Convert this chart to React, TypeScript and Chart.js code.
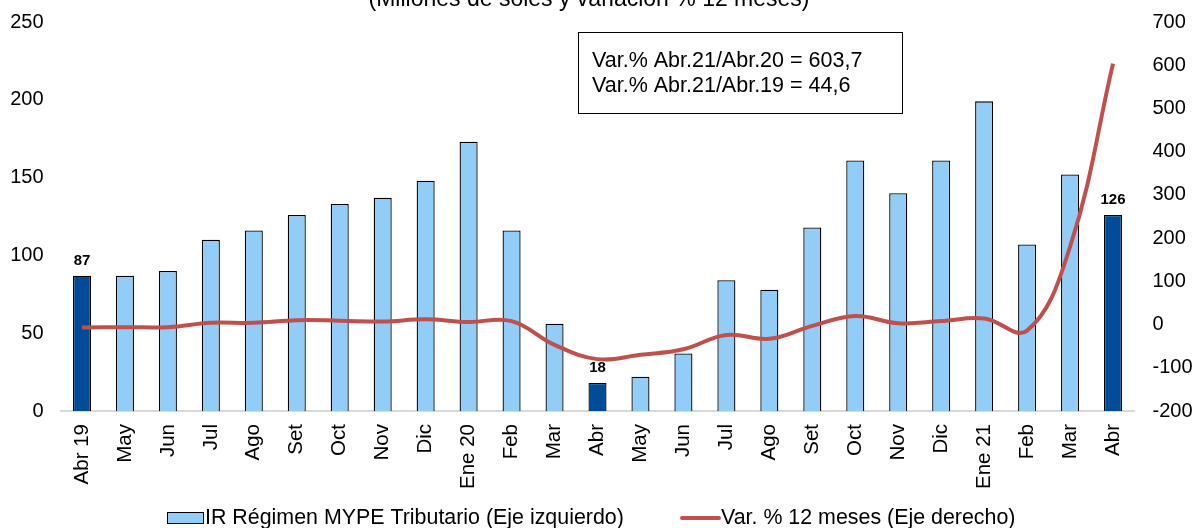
import React, { useEffect, useRef } from "react";
import { Chart, registerables } from "chart.js";

Chart.register(...registerables);

const categories = [
  "Abr 19", "May", "Jun", "Jul", "Ago", "Set", "Oct", "Nov", "Dic", "Ene 20",
  "Feb", "Mar", "Abr", "May", "Jun", "Jul", "Ago", "Set", "Oct", "Nov", "Dic",
  "Ene 21", "Feb", "Mar", "Abr",
];
const irValues = [
  87, 87, 90, 110, 116, 126, 133, 137, 148, 173, 116, 56, 18, 22, 37, 84, 78,
  118, 161, 140, 161, 199, 107, 152, 126,
];
const varValues = [
  -7, -6, -6, 4, 4, 10, 9, 7, 12, 6, 8, -47, -80, -70, -57, -24, -33, -3, 20,
  3, 8, 14, -14, 180, 603.7,
];
const highlightedIdx = [0, 12, 24];
const leftTicks = [0, 50, 100, 150, 200, 250];
const rightTicks = [-200, -100, 0, 100, 200, 300, 400, 500, 600, 700];
const titleText = "(Millones de soles y variación % 12 meses)";
const noteLines = ["Var.% Abr.21/Abr.20 = 603,7", "Var.% Abr.21/Abr.19 = 44,6"];
const legendLabels = [
  "IR Régimen MYPE Tributario (Eje izquierdo)",
  "Var. % 12 meses (Eje derecho)",
];

const FONT = "'Liberation Sans', Arial, sans-serif";
const LIGHT = "#92cdf8";
const DARK = "#004c99";
const RED = "#c0504d";

const W = 1192;
const H = 528;

const overlayPlugin = {
  id: "overlay",
  afterDatasetsDraw(chart: any) {
    const ctx = chart.ctx;
    ctx.save();
    const meta = chart.getDatasetMeta(0);
    ctx.fillStyle = "#000";
    ctx.font = `bold 15px ${FONT}`;
    ctx.textAlign = "center";
    ctx.textBaseline = "alphabetic";
    highlightedIdx.forEach((i) => {
      const el = meta.data[i];
      if (!el) return;
      ctx.fillText(String(irValues[i]), el.x, el.y - 11);
    });
    ctx.restore();
  },
  afterDraw(chart: any) {
    const ctx = chart.ctx;
    ctx.save();
    // title (cut at top)
    ctx.fillStyle = "#000";
    ctx.font = `23px ${FONT}`;
    ctx.textAlign = "center";
    ctx.textBaseline = "alphabetic";
    ctx.fillText(titleText, 589, 6);

    // note box
    ctx.strokeStyle = "#000";
    ctx.lineWidth = 1;
    ctx.strokeRect(578.5, 32.5, 324, 81);
    ctx.font = `21.5px ${FONT}`;
    ctx.textAlign = "left";
    ctx.textBaseline = "middle";
    ctx.fillText(noteLines[0], 592, 61.5);
    ctx.fillText(noteLines[1], 592, 86);

    // legend
    ctx.fillStyle = LIGHT;
    ctx.fillRect(167.5, 512.5, 36, 11);
    ctx.strokeStyle = "#000";
    ctx.strokeRect(167.5, 512.5, 36, 11);
    ctx.fillStyle = "#000";
    ctx.font = `21.4px ${FONT}`;
    ctx.textBaseline = "middle";
    ctx.fillText(legendLabels[0], 205, 518.5);
    ctx.strokeStyle = RED;
    ctx.lineWidth = 4;
    ctx.lineCap = "round";
    ctx.beginPath();
    ctx.moveTo(682, 518);
    ctx.lineTo(719, 518);
    ctx.stroke();
    ctx.fillText(legendLabels[1], 721, 518.5);
    ctx.restore();
  },
};

function zeroPad(scale: any) {
  scale.paddingTop = 0;
  scale.paddingBottom = 0;
  scale.paddingLeft = 0;
  scale.paddingRight = 0;
}

export default function App() {
  const ref = useRef<HTMLCanvasElement | null>(null);

  useEffect(() => {
    document.body.style.margin = "0";
    const canvas = ref.current;
    if (!canvas) return;
    const chart = new Chart(canvas, {
      type: "bar",
      data: {
        labels: categories,
        datasets: [
          {
            type: "bar",
            label: legendLabels[0],
            data: irValues,
            backgroundColor: irValues.map((_, i) =>
              highlightedIdx.includes(i) ? DARK : LIGHT
            ),
            borderColor: "#000",
            borderWidth: 1.3,
            barPercentage: 0.42,
            categoryPercentage: 1,
            yAxisID: "y",
            order: 1,
          },
          {
            type: "line",
            label: legendLabels[1],
            data: varValues,
            borderColor: RED,
            borderWidth: 4,
            pointRadius: 0,
            tension: 0.4,
            fill: false,
            yAxisID: "y1",
            order: 0,
          },
        ],
      } as any,
      options: {
        responsive: false,
        animation: false,
        devicePixelRatio: 1,
        layout: { padding: { top: 22, left: 0, right: 0, bottom: 0 } },
        plugins: {
          legend: { display: false },
          tooltip: { enabled: false },
          title: { display: false },
        },
        scales: {
          x: {
            type: "category",
            offset: true,
            grid: { display: false, drawTicks: false },
            border: { display: true, color: "#d9d9d9", width: 2 },
            ticks: {
              autoSkip: false,
              minRotation: 90,
              maxRotation: 90,
              padding: 13,
              color: "#000",
              font: { family: FONT, size: 20.5 },
            },
            afterFit(scale: any) {
              scale.height = H - 411;
              zeroPad(scale);
            },
          },
          y: {
            type: "linear",
            position: "left",
            min: 0,
            max: 250,
            afterBuildTicks(scale: any) {
              scale.ticks = leftTicks.map((v) => ({ value: v }));
            },
            grid: { display: false, drawTicks: false },
            border: { display: false },
            ticks: {
              padding: 17,
              color: "#000",
              font: { family: FONT, size: 20 },
            },
            afterFit(scale: any) {
              scale.width = 60.5;
              zeroPad(scale);
            },
          },
          y1: {
            type: "linear",
            position: "right",
            min: -200,
            max: 700,
            afterBuildTicks(scale: any) {
              scale.ticks = rightTicks.map((v) => ({ value: v }));
            },
            grid: { display: false, drawTicks: false },
            border: { display: false },
            ticks: {
              padding: 18,
              color: "#000",
              font: { family: FONT, size: 20 },
            },
            afterFit(scale: any) {
              scale.width = 57.5;
              zeroPad(scale);
            },
          },
        },
      } as any,
      plugins: [overlayPlugin],
    });
    return () => chart.destroy();
  }, []);

  return (
    <div style={{ position: "absolute", left: 0, top: 0, width: W, height: H, background: "#fff" }}>
      <canvas ref={ref} width={W} height={H} style={{ width: W, height: H }} />
    </div>
  );
}
